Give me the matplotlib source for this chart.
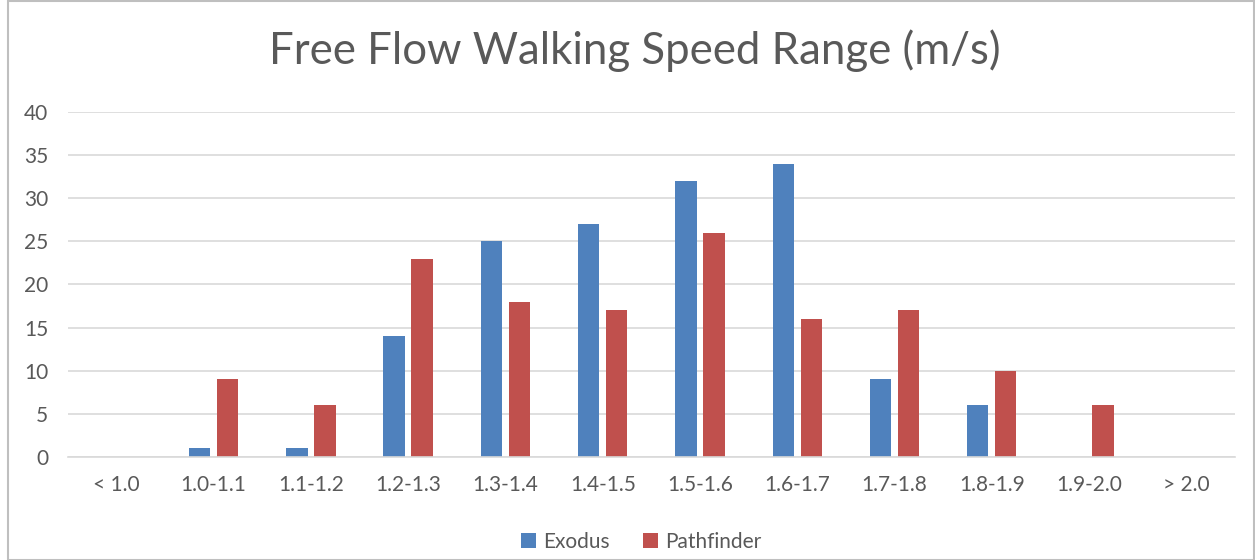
import matplotlib
matplotlib.use("Agg")
import matplotlib.pyplot as plt
import numpy as np
from matplotlib.patches import Rectangle

categories = ["< 1.0", "1.0-1.1", "1.1-1.2", "1.2-1.3", "1.3-1.4", "1.4-1.5",
              "1.5-1.6", "1.6-1.7", "1.7-1.8", "1.8-1.9", "1.9-2.0", "> 2.0"]
exodus = [0, 1, 1, 14, 25, 27, 32, 34, 9, 6, 0, 0]
pathfinder = [0, 9, 6, 23, 18, 17, 26, 16, 17, 10, 6, 0]
yticks = [0, 5, 10, 15, 20, 25, 30, 35, 40]

plt.rcParams["font.family"] = ["Lato", "DejaVu Sans"]
text_color = "#595959"

fig = plt.figure(figsize=(12.55, 5.6), dpi=100)
ax = fig.add_axes([0.054, 0.184, 0.93, 0.616])

x = np.arange(len(categories))
width = 0.22
ax.bar(x - 0.144, exodus, width, color="#4F81BD", label="Exodus")
ax.bar(x + 0.144, pathfinder, width, color="#C0504D", label="Pathfinder")

ax.set_xlim(-0.5, len(categories) - 0.5)
ax.set_ylim(0, 40)
ax.set_yticks(yticks)
ax.set_xticks(x, categories)
ax.tick_params(axis="both", length=0, labelsize=15, colors=text_color)
ax.tick_params(axis="x", pad=13)
ax.tick_params(axis="y", pad=14)
ax.grid(axis="y", color="#D9D9D9", linewidth=1.2)
ax.set_axisbelow(True)
for side in ["top", "right", "left"]:
    ax.spines[side].set_visible(False)
ax.spines["bottom"].set_color("#D9D9D9")
ax.spines["bottom"].set_linewidth(1.2)

fig.text(0.506, 0.91, "Free Flow Walking Speed Range (m/s)", ha="center", va="center",
         fontsize=31.5, color=text_color)

fig.legend(loc="center", bbox_to_anchor=(0.511, 0.033), ncol=2, frameon=False,
           fontsize=15, handlelength=0.7, handleheight=0.7, handletextpad=0.35,
           columnspacing=1.6, labelcolor=text_color)

fig.patches.append(Rectangle((0.006, 0.0), 0.993, 0.999, transform=fig.transFigure,
                             fill=False, edgecolor="#BFBFBF", linewidth=1.5))

fig.savefig("out.png", dpi=100)
plt.close(fig)
